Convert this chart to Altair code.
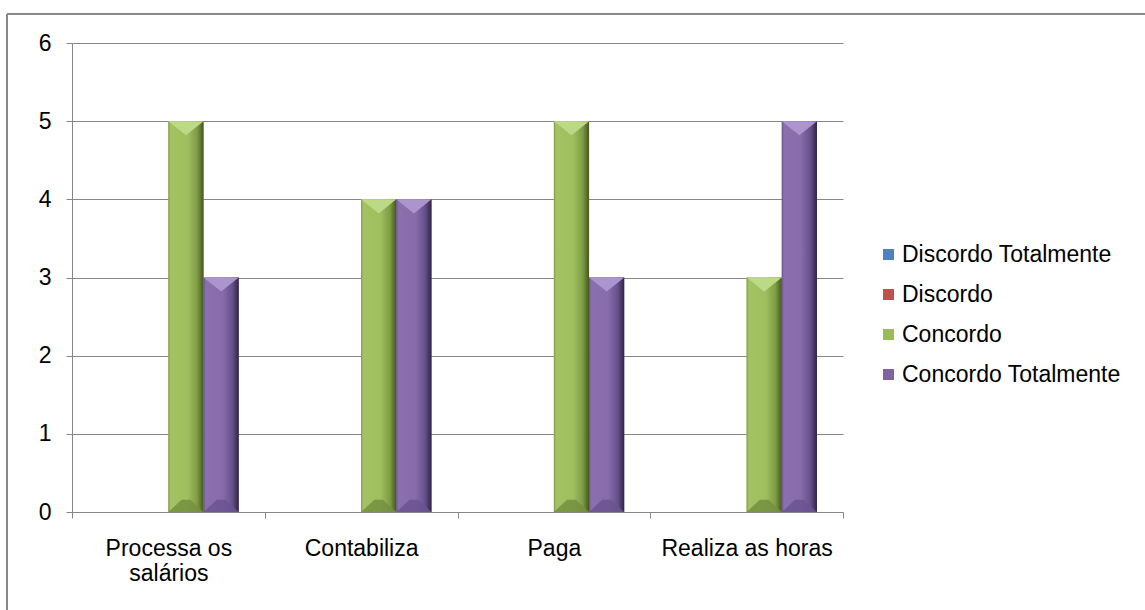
import altair as alt
import pandas as pd

# Survey answers per task (count of respondents)
categories = ["Processa os salários", "Contabiliza", "Paga", "Realiza as horas"]
series = ["Discordo Totalmente", "Discordo", "Concordo", "Concordo Totalmente"]
discordo_totalmente = [0, 0, 0, 0]
discordo = [0, 0, 0, 0]
concordo = [5, 4, 5, 3]
concordo_totalmente = [3, 4, 3, 5]
y_ticks = [0, 1, 2, 3, 4, 5, 6]

series_colors = ["#4F81BD", "#C0504D", "#9BBB59", "#8064A2"]

rows = []
for s, vals in zip(series, [discordo_totalmente, discordo, concordo, concordo_totalmente]):
    for c, v in zip(categories, vals):
        rows.append({"categoria": c, "serie": s, "valor": v})
df = pd.DataFrame(rows)

FONT = "Liberation Sans"
GRAY = "#868686"
W, H = 771, 469
PAD_L, PAD_T = 72, 43
OFFSET_PAD = 0.74  # outer padding of the series band inside each category

x_enc = alt.X(
    "categoria:N",
    sort=categories,
    title=None,
    scale=alt.Scale(paddingInner=0, paddingOuter=0),
    axis=alt.Axis(
        tickBand="extent",
        labelAngle=0,
        labelFont=FONT,
        labelFontSize=23,
        labelColor="black",
        labelPadding=19,
        labelLineHeight=25,
        labelBaseline="top",
        labelExpr="datum.label == 'Processa os salários' ? ['Processa os', 'salários'] : datum.label",
        tickColor=GRAY,
        tickSize=6,
        domainColor=GRAY,
        grid=False,
    ),
)
xoff_enc = alt.XOffset(
    "serie:N", sort=series,
    scale=alt.Scale(paddingInner=0, paddingOuter=OFFSET_PAD),
)
y_enc = alt.Y(
    "valor:Q",
    title=None,
    scale=alt.Scale(domain=[0, 6], nice=False),
    axis=alt.Axis(
        values=y_ticks,
        format="d",
        labelFont=FONT,
        labelFontSize=23,
        labelColor="black",
        labelPadding=15,
        tickColor=GRAY,
        tickSize=6,
        domainColor=GRAY,
        gridColor=GRAY,
        gridOpacity=1,
    ),
)

base = alt.Chart(df)

flat_bars = base.mark_bar().encode(
    x=x_enc,
    xOffset=xoff_enc,
    y=y_enc,
    color=alt.Color(
        "serie:N",
        sort=series,
        scale=alt.Scale(domain=series, range=series_colors),
        legend=alt.Legend(
            title=None,
            orient="none",
            legendX=805,
            legendY=200,
            symbolType="square",
            symbolSize=121,
            symbolStrokeWidth=0,
            symbolOpacity=1,
            labelFont=FONT,
            labelFontSize=23,
            labelColor="black",
            labelOffset=2,
            labelLimit=400,
            rowPadding=16,
        ),
    ),
)


def gradient(stops):
    return alt.LinearGradient(
        gradient="linear",
        stops=[alt.GradientStop(offset=o, color=c) for o, c in stops],
        x1=0, x2=1, y1=0, y2=0,
    )


bevel = {
    "Concordo": {
        "face": [(0, "#7f9c46"), (0.06, "#a3c363"), (0.55, "#9fbf5f"), (0.82, "#7e9c45"), (1, "#45561f")],
        "top": "#bcd985",
        "bottom": "#748f3f",
    },
    "Concordo Totalmente": {
        "face": [(0, "#6a528b"), (0.06, "#8b70b0"), (0.55, "#876bab"), (0.82, "#66508a"), (1, "#2f2442")],
        "top": "#ab95cc",
        "bottom": "#6b5390",
    },
}

bar_px = (W / 4) / (4 + 2 * OFFSET_PAD)
top_shape = "M-1,0 L1,0 L0,0.8 Z"
bottom_shape = "M-1,0 L1,0 L0.25,-0.7 L-0.25,-0.7 Z"

layers = [flat_bars]
for s, style in bevel.items():
    sub = base.transform_filter(alt.datum.serie == s)
    layers.append(
        sub.mark_bar(color=gradient(style["face"])).encode(x=x_enc, xOffset=xoff_enc, y=y_enc)
    )
    layers.append(
        sub.mark_point(shape=top_shape, filled=True, opacity=1, strokeWidth=0,
                       size=bar_px ** 2, color=style["top"]).encode(
            x=x_enc, xOffset=xoff_enc, y=y_enc)
    )
    layers.append(
        sub.mark_point(shape=bottom_shape, filled=True, opacity=0.85, strokeWidth=0,
                       size=bar_px ** 2, color=style["bottom"]).encode(
            x=x_enc, xOffset=xoff_enc, y=alt.datum(0))
    )

# Chart frame (top and left edges)
frame_df = pd.DataFrame({"k": [0]})
frame_top = alt.Chart(frame_df).mark_rule(color="#898989", strokeWidth=2).encode(
    x=alt.value(-65), x2=alt.value(1145 - PAD_L), y=alt.value(-29)
)
frame_left = alt.Chart(frame_df).mark_rule(color="#898989", strokeWidth=2).encode(
    x=alt.value(-65), y=alt.value(-29), y2=alt.value(610 - PAD_T)
)
layers += [frame_top, frame_left]

chart = alt.layer(*layers).properties(
    width=W,
    height=H,
    padding={"left": PAD_L, "top": PAD_T, "right": 1145 - PAD_L - W, "bottom": 610 - PAD_T - H},
    autosize=alt.AutoSizeParams(type="none"),
    background="white",
).configure_view(strokeWidth=0)

chart.save("out.html", embed_options={"renderer": "svg", "actions": False})
